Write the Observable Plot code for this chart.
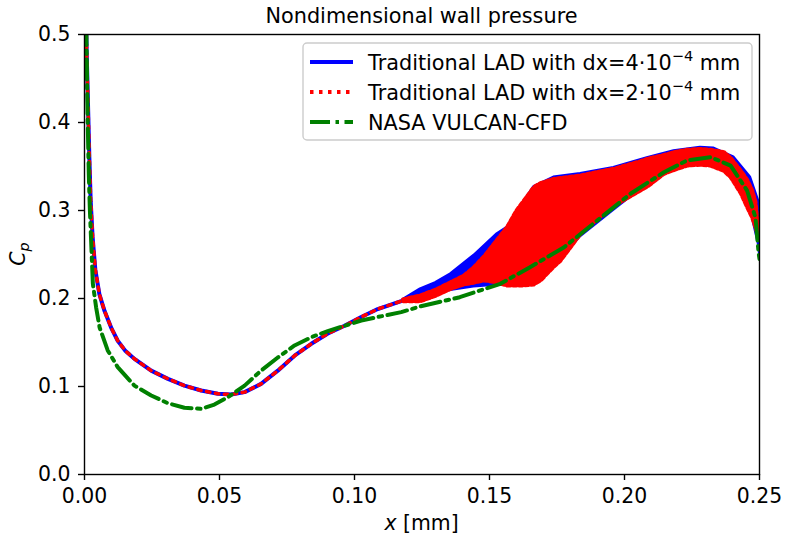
<!DOCTYPE html>
<html><head><meta charset="utf-8">
<script src="https://cdn.jsdelivr.net/npm/d3@7"></script>
<script src="https://cdn.jsdelivr.net/npm/@observablehq/plot@0.6"></script>
<style>body{margin:0;background:#fff;} svg{display:block;}</style>
</head><body><div id="chart"></div>
<script>
// Shared LAD curve before the oscillating region (x in mm, Cp)
const ladX = [0.0004,0.0008,0.0013,0.0018,0.0023,0.0030,0.0040,0.0055,0.0074,0.0100,0.0123,0.0150,0.0185,0.0247,0.0309,0.0370,0.0432,0.0494,0.0543,0.0593,0.0654,0.0716,0.0778,0.0840,0.0900,0.0963,0.1025,0.1086,0.1173,0.1180];
const ladY = [0.55,0.48,0.42,0.36,0.31,0.27,0.233,0.205,0.186,0.166,0.152,0.141,0.1314,0.118,0.1087,0.101,0.0955,0.0917,0.0909,0.0936,0.103,0.118,0.135,0.1485,0.160,0.169,0.179,0.188,0.197,0.198];

// Oscillation envelope, dx = 4e-4 mm (blue)
const blueBandX  = [0.118,0.1244,0.130,0.1356,0.1442,0.1528,0.1565,0.1615,0.1664,0.1738,0.1837,0.196,0.2084,0.2183,0.2281,0.233,0.2405,0.2467,0.2497,0.2500];
const blueBandLo = [0.197,0.2015,0.205,0.209,0.213,0.215,0.2148,0.2148,0.216,0.235,0.270,0.300,0.330,0.348,0.353,0.352,0.338,0.300,0.260,0.250];
const blueBandHi = [0.199,0.211,0.218,0.228,0.249,0.2735,0.281,0.305,0.327,0.338,0.342,0.349,0.360,0.368,0.372,0.371,0.361,0.338,0.311,0.300];

// Oscillation envelope, dx = 2e-4 mm (red)
const redBandX  = [0.118,0.1244,0.130,0.1356,0.1405,0.1442,0.148,0.1516,0.1565,0.160,0.1627,0.1664,0.1689,0.1738,0.1763,0.1837,0.1936,0.196,0.2059,0.2084,0.2146,0.2183,0.2232,0.2281,0.2319,0.2368,0.2393,0.243,0.2454,0.2473,0.2485,0.2491,0.2497];
const redBandLo = [0.197,0.197,0.203,0.211,0.216,0.218,0.2205,0.219,0.2148,0.2148,0.2148,0.216,0.2205,0.236,0.243,0.2735,0.300,0.305,0.3227,0.327,0.3417,0.346,0.351,0.352,0.351,0.345,0.338,0.320,0.304,0.292,0.281,0.275,0.266];
const redBandHi = [0.199,0.2035,0.210,0.2185,0.226,0.2356,0.248,0.262,0.281,0.300,0.311,0.3265,0.331,0.336,0.337,0.3398,0.346,0.3474,0.356,0.3587,0.363,0.3663,0.369,0.370,0.369,0.3663,0.360,0.3455,0.335,0.3227,0.310,0.2924,0.270];

// NASA VULCAN-CFD
const nasaX = [0.0004,0.0008,0.0012,0.0016,0.0020,0.0031,0.0043,0.0056,0.0086,0.0123,0.0185,0.0247,0.0309,0.0370,0.0432,0.0481,0.0531,0.0593,0.0654,0.0716,0.0778,0.0840,0.0901,0.0963,0.1025,0.1086,0.1173,0.1244,0.139,0.154,0.165,0.1775,0.1899,0.2022,0.2146,0.2232,0.2319,0.2393,0.2454,0.2485,0.2497,0.2500];
const nasaY = [0.55,0.48,0.40,0.34,0.30,0.2167,0.19,0.167,0.141,0.122,0.101,0.0898,0.081,0.0758,0.0746,0.0795,0.0879,0.101,0.118,0.133,0.1466,0.156,0.163,0.169,0.175,0.179,0.1845,0.191,0.2015,0.2167,0.2356,0.258,0.2886,0.319,0.3435,0.357,0.3606,0.351,0.3227,0.292,0.2508,0.245];

const xTicks = [0,0.05,0.10,0.15,0.20,0.25];
const yTicks = [0,0.1,0.2,0.3,0.4,0.5];

const lad = ladX.map((x,i)=>({x, y: ladY[i]}));
const blueBand = blueBandX.map((x,i)=>({x, lo: blueBandLo[i], hi: blueBandHi[i]}));
const redBand = redBandX.map((x,i)=>({x, lo: redBandLo[i], hi: redBandHi[i]}));
const nasa = nasaX.map((x,i)=>({x, y: nasaY[i]}));

const FS = 20.4;   // tick and axis label size
const LFS = 20.8;  // legend and title size
const plot = Plot.plot({
  width: 788, height: 540,
  marginLeft: 84, marginRight: 29, marginTop: 34, marginBottom: 66,
  style: {fontFamily: "DejaVu Sans", fontSize: FS + "px", background: "#fff", color: "#000"},
  x: {domain: [0, 0.25], label: null},
  y: {domain: [0, 0.5], label: null},
  marks: [
    Plot.axisX({ticks: xTicks, tickFormat: d3.format(".2f"), tickSize: 6, tickPadding: 8, label: null, strokeWidth: 1.4, fontSize: FS}),
    Plot.axisY({ticks: yTicks, tickFormat: d3.format(".1f"), tickSize: 6, tickPadding: 8, label: null, strokeWidth: 1.4, fontSize: FS}),
    // blue
    Plot.line(lad, {x: "x", y: "y", stroke: "blue", strokeWidth: 4, clip: true}),
    Plot.areaY(blueBand, {x: "x", y1: "lo", y2: "hi", fill: "blue", stroke: "blue", strokeWidth: 2, clip: true}),
    // red
    Plot.line(lad, {x: "x", y: "y", stroke: "red", strokeWidth: 3.5, strokeDasharray: "3.5,5.5", clip: true}),
    Plot.areaY(redBand, {x: "x", y1: "lo", y2: "hi", fill: "red", clip: true}),
    Plot.line(redBand, {x: "x", y: "hi", stroke: "red", strokeWidth: 4, strokeDasharray: "3.5,2.5", clip: true}),
    Plot.line(redBand, {x: "x", y: "lo", stroke: "red", strokeWidth: 4, strokeDasharray: "3.5,2.5", clip: true}),
    // green
    Plot.line(nasa, {x: "x", y: "y", stroke: "green", strokeWidth: 4, strokeDasharray: "20,5.5,3.5,5.5", clip: true}),
    Plot.frame({stroke: "black", strokeWidth: 1.4})
  ]
});
document.getElementById("chart").appendChild(plot);

const svg = d3.select(plot);
// title
svg.append("text").attr("x", 421.5).attr("y", 23).attr("text-anchor", "middle")
  .attr("font-size", LFS).attr("font-family", "DejaVu Sans").attr("fill", "black")
  .text("Nondimensional wall pressure");
// axis labels
const xl = svg.append("text").attr("x", 421.5).attr("y", 530).attr("text-anchor", "middle")
  .attr("font-size", FS).attr("font-family", "DejaVu Sans").attr("fill", "black");
xl.append("tspan").attr("font-style", "italic").text("x");
xl.append("tspan").text(" [mm]");
const yl = svg.append("text").attr("transform", "translate(25,254) rotate(-90)").attr("text-anchor", "middle")
  .attr("font-size", FS).attr("font-family", "DejaVu Sans").attr("fill", "black");
yl.append("tspan").attr("font-style", "italic").text("C");
yl.append("tspan").attr("font-style", "italic").attr("font-size", FS * 0.7).attr("dy", 4).text("p");

// legend
const lg = svg.append("g").attr("font-family", "DejaVu Sans").attr("font-size", LFS).attr("text-anchor", "start");
lg.append("rect").attr("x", 303).attr("y", 43).attr("width", 449).attr("height", 97).attr("rx", 4)
  .attr("fill", "white").attr("fill-opacity", 0.8).attr("stroke", "#cccccc").attr("stroke-width", 1.4);
const entries = [
  {stroke: "blue", dash: null, pre: "Traditional LAD with dx=4\u00b710", sup: "\u22124", post: " mm", y: 62},
  {stroke: "red", dash: "3.5,5.5", pre: "Traditional LAD with dx=2\u00b710", sup: "\u22124", post: " mm", y: 92},
  {stroke: "green", dash: "20,5.5,3.5,5.5", pre: "NASA VULCAN-CFD", sup: null, post: null, y: 122}
];
for (const e of entries) {
  const l = lg.append("line").attr("x1", 310).attr("x2", 353).attr("y1", e.y).attr("y2", e.y)
    .attr("stroke", e.stroke).attr("stroke-width", 4);
  if (e.dash) l.attr("stroke-dasharray", e.dash);
  const t = lg.append("text").attr("x", 368).attr("y", e.y + 7.5).attr("fill", "black").attr("text-anchor", "start");
  t.append("tspan").text(e.pre);
  if (e.sup) {
    t.append("tspan").attr("font-size", LFS * 0.7).attr("dy", -9).text(e.sup);
    t.append("tspan").attr("dy", 9).text(e.post);
  }
}
</script></body></html>
